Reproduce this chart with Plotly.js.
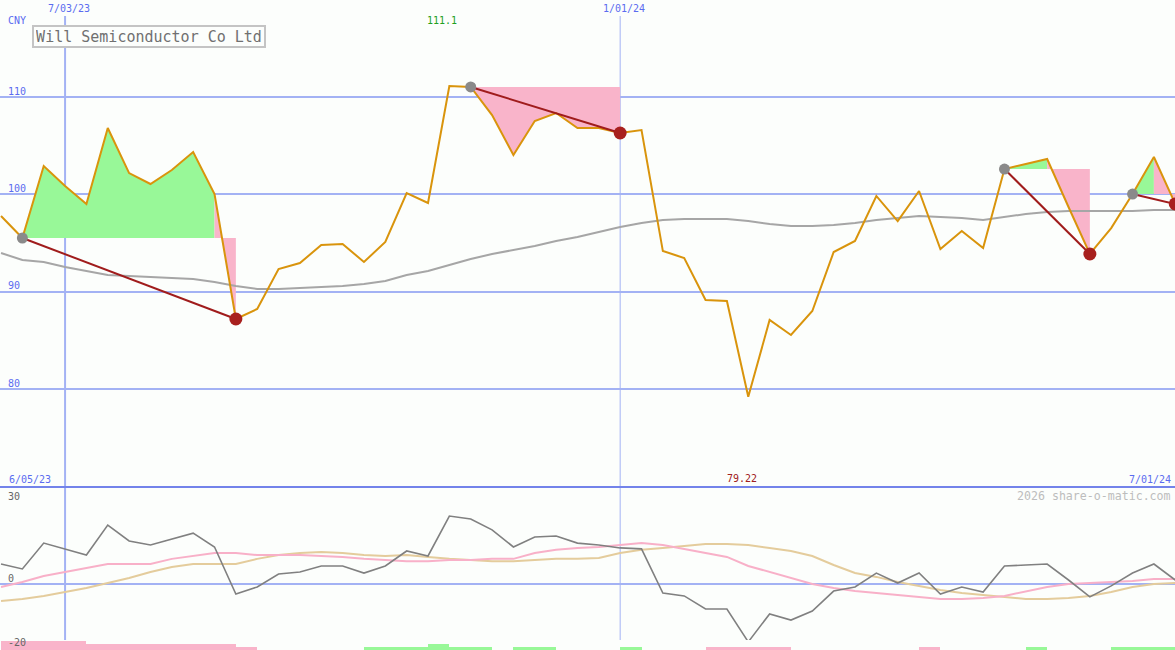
<!DOCTYPE html>
<html><head><meta charset="utf-8">
<script src="https://cdn.plot.ly/plotly-3.0.1.min.js"></script>
<style>html,body{margin:0;padding:0;background:#fcfefc}#chart{width:1175px;height:650px}</style>
</head><body><div id="chart"></div>
<script>
// ---- data (weekly) ----
const dates = ['2023-06-12','2023-06-19','2023-06-26','2023-07-03','2023-07-10','2023-07-17','2023-07-24','2023-07-31',
'2023-08-07','2023-08-14','2023-08-21','2023-08-28','2023-09-04','2023-09-11','2023-09-18','2023-09-25',
'2023-10-02','2023-10-09','2023-10-16','2023-10-23','2023-10-30','2023-11-06','2023-11-13','2023-11-20',
'2023-11-27','2023-12-04','2023-12-11','2023-12-18','2023-12-25','2024-01-01','2024-01-08','2024-01-15',
'2024-01-22','2024-01-29','2024-02-05','2024-02-12','2024-02-19','2024-02-26','2024-03-04','2024-03-11',
'2024-03-18','2024-03-25','2024-04-01','2024-04-08','2024-04-15','2024-04-22','2024-04-29','2024-05-06',
'2024-05-13','2024-05-20','2024-05-27','2024-06-03','2024-06-10','2024-06-17','2024-06-24','2024-07-01'];

const price = [97.76,95.51,102.89,100.84,99.0,106.79,102.17,101.05,102.48,104.33,100.02,87.2,88.23,92.33,92.94,94.79,
94.89,93.05,95.1,100.12,99.1,111.1,111.0,108.12,104.02,107.51,108.33,106.79,106.8,106.28,106.58,94.17,
93.46,89.15,89.05,79.22,87.1,85.56,88.02,94.07,95.2,99.82,97.25,100.33,94.38,96.23,94.48,102.58,
103.1,103.61,98.69,93.87,96.53,100.02,103.82,99.0];

const movingAvg = [93.97,93.25,93.05,92.53,92.12,91.71,91.61,91.51,91.4,91.3,91.0,90.59,90.28,90.28,90.38,90.48,
90.59,90.8,91.1,91.71,92.12,92.74,93.35,93.87,94.28,94.69,95.2,95.61,96.12,96.63,97.05,97.35,
97.46,97.46,97.46,97.25,96.94,96.74,96.74,96.84,97.05,97.35,97.56,97.76,97.66,97.56,97.35,97.66,
97.97,98.17,98.28,98.28,98.28,98.28,98.38,98.38];

const oscFast = [6.2,4.66,12.7,10.9,9.0,18.3,13.35,12.1,14.0,15.8,11.5,-3.1,-0.93,3.1,3.73,5.6,
5.6,3.4,5.6,10.25,8.7,21.1,20.2,16.8,11.5,14.6,14.9,12.7,12.1,11.2,10.9,-2.8,
-3.7,-7.76,-7.76,-18.0,-9.3,-11.2,-8.4,-2.2,-0.93,3.4,0.3,3.4,-3.1,-0.93,-2.5,5.6,
5.9,6.2,1.24,-4.0,-0.6,3.4,6.2,1.24];

const oscMid = [-0.93,0.62,2.5,3.7,5.0,6.2,6.2,6.2,7.8,8.7,9.6,9.6,9.0,9.0,9.0,8.7,
8.4,7.8,7.45,7.1,7.1,7.45,7.45,7.8,7.8,9.6,10.6,11.2,11.5,12.1,12.7,12.1,
10.9,9.6,8.4,5.6,3.7,1.9,0,-1.24,-2.2,-2.8,-3.4,-4.0,-4.66,-4.66,-4.35,-3.7,
-2.2,-0.93,0,0.3,0.62,0.93,1.55,1.55];

const oscSlow = [-5.3,-4.66,-3.7,-2.5,-1.24,0.3,1.86,3.7,5.3,6.2,6.2,6.2,7.8,9.0,9.6,9.9,
9.6,9.0,8.7,9.0,8.4,7.8,7.45,7.1,7.1,7.45,7.8,7.8,8.1,9.6,10.6,11.2,
11.8,12.4,12.4,12.1,11.2,10.25,8.7,5.9,3.4,2.2,0.62,-0.62,-1.86,-2.8,-3.4,-4.0,
-4.66,-4.66,-4.35,-3.7,-2.5,-0.93,0,0.3];

const signal = [-3,-3,-3,-3,-2,-2,-2,-2,-2,-2,-2,-1,0,0,0,0,0,1,1,1,2,1,1,0,1,1,0,0,0,1,0,0,0,
-1,-1,-1,-1,0,0,0,0,0,0,-1,0,0,0,0,1,0,0,0,1,1,1,0];

const swingStart = [1,22,47,53];
const swingEnd = [11,29,51,55];

const monthTicks = ['2023-07-03','2024-01-01'];
const monthLabels = ['7/03/23','1/01/24'];
const priceTicks = [80,90,100,110];
const oscTicks = [30,0,-20];

// ---- styling ----
const W = 1175, H = 650;
const py = p => (H - p) / H;
const GREEN = '#98f898', PINK = '#f9b4ca', BLUE = '#5b6cf0', GRID = '#a3b2f4';
const MONO = 'DejaVu Sans Mono, monospace';

const traces = [];

// swing fills
swingStart.forEach((s, i) => {
  const e = swingEnd[i], L = price[s];
  let a = s;
  while (a < e) {
    const up = price[a + 1] >= L;
    let b = a + 1;
    while (b < e && (price[b + 1] >= L) === up) b++;
    const xs = [dates[a]], ys = [L];
    for (let k = a; k <= b; k++) { xs.push(dates[k]); ys.push(price[k]); }
    xs.push(dates[b]); ys.push(L);
    traces.push({type:'scatter', mode:'lines', x:xs, y:ys, fill:'toself', fillcolor: up ? GREEN : PINK,
      line:{width:0, color: up ? GREEN : PINK}, hoverinfo:'skip', showlegend:false, xaxis:'x', yaxis:'y'});
    a = b;
  }
});

traces.push({type:'scatter', mode:'lines', x:dates, y:movingAvg, line:{color:'#a6a6a6', width:2}, xaxis:'x', yaxis:'y', showlegend:false});
traces.push({type:'scatter', mode:'lines', x:dates, y:price, line:{color:'#d9940c', width:2}, xaxis:'x', yaxis:'y', showlegend:false});

const swx = [], swy = [];
swingStart.forEach((s, i) => { swx.push(dates[s], dates[swingEnd[i]], null); swy.push(price[s], price[swingEnd[i]], null); });
traces.push({type:'scatter', mode:'lines', x:swx, y:swy, line:{color:'#a01c1c', width:2}, xaxis:'x', yaxis:'y', showlegend:false});

traces.push({type:'scatter', mode:'markers', x:swingStart.map(k => dates[k]), y:swingStart.map(k => price[k]),
  marker:{color:'#8a8a8a', size:11}, xaxis:'x', yaxis:'y', showlegend:false});
traces.push({type:'scatter', mode:'markers', x:swingEnd.map(k => dates[k]), y:swingEnd.map(k => price[k]),
  marker:{color:'#a8201e', size:13}, xaxis:'x', yaxis:'y', showlegend:false});

// signal bars
const bx = [], by = [], bc = [];
signal.forEach((v, k) => { if (v !== 0) { bx.push(dates[k]); by.push(Math.abs(v)); bc.push(v > 0 ? GREEN : PINK); } });
traces.push({type:'bar', x:bx, y:by, width:7*86400000, offset:0, marker:{color:bc, line:{width:0}},
  xaxis:'x', yaxis:'y3', showlegend:false});

traces.push({type:'scatter', mode:'lines', x:dates, y:oscSlow, line:{color:'#e4cc9c', width:2}, xaxis:'x', yaxis:'y2', showlegend:false});
traces.push({type:'scatter', mode:'lines', x:dates, y:oscMid, line:{color:'#f8b0c8', width:2}, xaxis:'x', yaxis:'y2', showlegend:false});
traces.push({type:'scatter', mode:'lines', x:dates, y:oscFast, line:{color:'#808080', width:1.6}, xaxis:'x', yaxis:'y2', showlegend:false});

// shapes
const shapes = [];
monthTicks.forEach((d, i) => {
  shapes.push({type:'line', xref:'x', yref:'paper', x0:d, x1:d, y0:0, y1:py(16),
    line:{color:GRID, width: i === 0 ? 2 : 1}, layer:'below'});
});
shapes.push({type:'line', xref:'paper', yref:'paper', x0:0, x1:1, y0:py(487), y1:py(487), line:{color:'#7383ea', width:2}});

// annotations
const ann = [];
const txt = (text, x, xref, y, opts) => Object.assign({text, x, xref, y:py(y), yref:'paper', showarrow:false,
  xanchor:'center', yanchor:'middle', font:{family:MONO, size:10, color:BLUE}}, opts || {});
monthTicks.forEach((d, i) => ann.push(txt(monthLabels[i], d, 'x', 8.5, {xshift:4})));
ann.push(txt('CNY', 6/W, 'paper', 21, {xanchor:'left'}));
const priceLabelY = {110:91.2, 100:188.8, 90:285.8, 80:383.3};
priceTicks.forEach(v => ann.push(txt(String(v), 6/W, 'paper', priceLabelY[v], {xanchor:'left'})));
const oscLabelY = {30:496, 0:578.3, '-20':642};
oscTicks.forEach(v => ann.push(txt(String(v), 6/W, 'paper', oscLabelY[v], {xanchor:'left', font:{family:MONO, size:10, color:'#666666'}})));
const maxI = price.indexOf(Math.max(...price)), minI = price.indexOf(Math.min(...price));
ann.push(txt(Math.max(...price).toFixed(1), dates[maxI], 'x', 21, {xshift:-7, font:{family:MONO, size:10, color:'#1fa01f'}}));
ann.push(txt(Math.min(...price).toFixed(2), dates[minI], 'x', 478.7, {xshift:-6, font:{family:MONO, size:10, color:'#a02020'}}));
ann.push(txt('6/05/23', 7/W, 'paper', 479, {xanchor:'left'}));
ann.push(txt('7/01/24', 1172.5/W, 'paper', 479, {xanchor:'right'}));
ann.push(txt('2026 share-o-matic.com', 1172.5/W, 'paper', 496, {xanchor:'right', font:{family:MONO, size:11.6, color:'#bdbdbd'}}));
ann.push({text:'Will Semiconductor Co Ltd', xref:'paper', x:32/W, yref:'paper', y:py(25), xanchor:'left', yanchor:'top',
  showarrow:false, font:{family:MONO, size:15, color:'#707070'}, bordercolor:'#c4c4c4', borderwidth:2, borderpad:2,
  bgcolor:'#fcfefc', width:226, height:15});

const layout = {
  width:W, height:H, margin:{l:0, r:0, t:0, b:0},
  paper_bgcolor:'#fcfefc', plot_bgcolor:'#fcfefc', showlegend:false, bargap:0,
  xaxis:{type:'date', range:['2023-06-11 16:00','2024-06-30 22:00'], visible:false, fixedrange:true},
  yaxis:{domain:[py(487), 1], range:[69.97, 119.92], tickvals:priceTicks, showticklabels:false, ticks:'',
    showgrid:true, gridcolor:GRID, gridwidth:2, zeroline:false, showline:false, fixedrange:true},
  yaxis2:{domain:[0, py(487)], range:[-20.5, 30.12], tickvals:[0], showticklabels:false, ticks:'',
    showgrid:true, gridcolor:GRID, gridwidth:2, zeroline:false, showline:false, fixedrange:true},
  yaxis3:{domain:[0, 10/H], range:[0, 3.333], visible:false, fixedrange:true},
  shapes, annotations:ann
};

Plotly.newPlot('chart', traces, layout, {staticPlot:true, displayModeBar:false});
</script>
</body></html>
